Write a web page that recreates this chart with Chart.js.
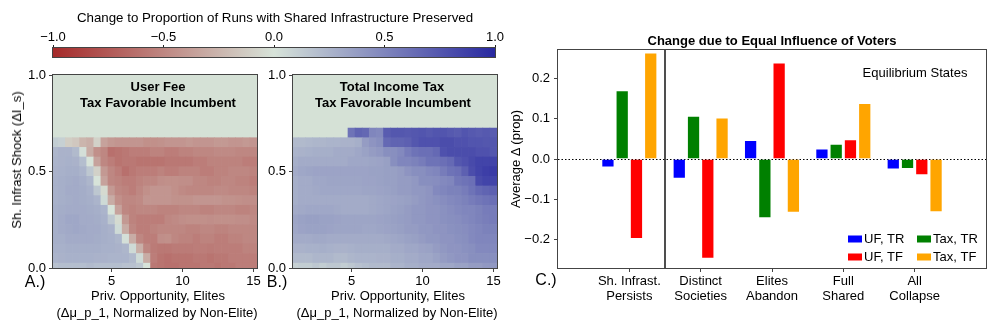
<!DOCTYPE html>
<html>
<head>
<meta charset="utf-8">
<script src="https://cdn.jsdelivr.net/npm/chart.js@4.4.1/dist/chart.umd.min.js"></script>
<style>
  body { margin: 0; background: #fff; width: 997px; height: 332px; overflow: hidden; position: relative;
         font-family: 'Liberation Sans', Arial, sans-serif; color: #000; }
  canvas { position: absolute; }
  .t { position: absolute; white-space: nowrap; font-size: 13px; line-height: 16px; transform: translate(-50%, -50%); }
  .b { font-weight: bold; }
  .p { font-size: 16px; line-height: 18px; }
  .rot { transform: translate(-50%, -50%) rotate(-90deg); }
</style>
</head>
<body>
<canvas id="cbar" width="520" height="60" style="left:0;top:0"></canvas>
<canvas id="heatA" width="270" height="272" style="left:0;top:60px"></canvas>
<canvas id="heatB" width="270" height="272" style="left:240px;top:60px"></canvas>
<canvas id="barC" width="497" height="332" style="left:500px;top:0"></canvas>

<div class="t" style="left:275px;top:18px;font-size:13.3px">Change to Proportion of Runs with Shared Infrastructure Preserved</div>

<div class="t rot" style="left:17px;top:160px">Sh. Infrast Shock (ΔI_s)</div>
<div class="t b" style="left:158px;top:87px">User Fee</div>
<div class="t b" style="left:158px;top:103px">Tax Favorable Incumbent</div>
<div class="t" style="left:158px;top:296px">Priv. Opportunity, Elites</div>
<div class="t" style="left:157px;top:313px">(Δμ_p_1, Normalized by Non-Elite)</div>
<div class="t p" style="left:35px;top:282px">A.)</div>

<div class="t b" style="left:392px;top:87px">Total Income Tax</div>
<div class="t b" style="left:393px;top:103px">Tax Favorable Incumbent</div>
<div class="t" style="left:398px;top:296px">Priv. Opportunity, Elites</div>
<div class="t" style="left:397px;top:313px">(Δμ_p_1, Normalized by Non-Elite)</div>
<div class="t p" style="left:277px;top:282px">B.)</div>

<div class="t b" style="left:772px;top:41px">Change due to Equal Influence of Voters</div>
<div class="t" style="left:915px;top:73px">Equilibrium States</div>
<div class="t rot" style="left:516px;top:159px">Average Δ (prop)</div>
<div class="t p" style="left:546px;top:280px">C.)</div>

<script>
// ---- colour bar ----
const colorbarTicks = [-1, -0.5, 0, 0.5, 1];

// ---- heatmaps (rows bottom to top, one value per column) ----
const heatX = [1, 1.5, 2, 2.5, 3, 3.5, 4, 4.5, 5, 5.5, 6, 6.5, 7, 7.5, 8, 8.5, 9, 9.5, 10, 10.5, 11, 11.5, 12, 12.5, 13, 13.5, 14, 14.5, 15];
const heatXTicks = [5, 10, 15];
const heatYTicks = [0, 0.5, 1];
const heatYA = [0, 0.05, 0.1, 0.15, 0.2, 0.25, 0.3, 0.35, 0.4, 0.45, 0.5, 0.55, 0.6, 0.65];
const heatYB = [0, 0.05, 0.1, 0.15, 0.2, 0.25, 0.3, 0.35, 0.4, 0.45, 0.5, 0.55, 0.6, 0.65, 0.7];

// User Fee, Tax Favorable Incumbent
const heatA = [
  [0.18,0.2,0.2,0.2,0.2,0.22,0.2,0.2,0.2,0.2,0.18,0.18,0.15,0.0,-0.58,-0.6,-0.62,-0.62,-0.6,-0.6,-0.6,-0.58,-0.58,-0.6,-0.58,-0.58,-0.55,-0.55,-0.55],
  [0.25,0.26,0.27,0.27,0.27,0.27,0.26,0.26,0.25,0.25,0.25,0.22,0.05,-0.3,-0.55,-0.6,-0.62,-0.6,-0.6,-0.6,-0.58,-0.58,-0.6,-0.58,-0.58,-0.55,-0.55,-0.55,-0.55],
  [0.27,0.27,0.28,0.28,0.28,0.28,0.28,0.27,0.27,0.26,0.24,0.05,-0.28,-0.5,-0.56,-0.58,-0.58,-0.56,-0.56,-0.56,-0.55,-0.55,-0.56,-0.55,-0.55,-0.55,-0.55,-0.52,-0.52],
  [0.28,0.28,0.3,0.3,0.3,0.3,0.29,0.28,0.27,0.24,0.02,-0.3,-0.5,-0.55,-0.55,-0.46,-0.45,-0.5,-0.52,-0.52,-0.55,-0.52,-0.52,-0.55,-0.55,-0.52,-0.52,-0.5,-0.5],
  [0.28,0.3,0.31,0.32,0.31,0.3,0.3,0.28,0.26,0.05,-0.3,-0.5,-0.55,-0.55,-0.52,-0.5,-0.5,-0.5,-0.5,-0.52,-0.52,-0.5,-0.5,-0.52,-0.52,-0.5,-0.5,-0.5,-0.5],
  [0.28,0.3,0.32,0.32,0.3,0.3,0.29,0.27,0.15,-0.05,-0.4,-0.52,-0.55,-0.55,-0.55,-0.55,-0.5,-0.48,-0.46,-0.45,-0.45,-0.45,-0.46,-0.45,-0.45,-0.45,-0.46,-0.46,-0.48],
  [0.28,0.29,0.3,0.3,0.3,0.29,0.28,0.25,0.0,-0.35,-0.5,-0.52,-0.5,-0.5,-0.5,-0.52,-0.52,-0.52,-0.5,-0.5,-0.5,-0.52,-0.52,-0.5,-0.5,-0.5,-0.52,-0.52,-0.5],
  [0.27,0.28,0.29,0.3,0.29,0.28,0.25,0.05,-0.3,-0.45,-0.5,-0.5,-0.48,-0.42,-0.42,-0.42,-0.42,-0.44,-0.44,-0.44,-0.42,-0.42,-0.42,-0.42,-0.44,-0.44,-0.45,-0.46,-0.46],
  [0.27,0.28,0.3,0.3,0.29,0.27,0.15,-0.05,-0.4,-0.5,-0.52,-0.55,-0.5,-0.45,-0.42,-0.42,-0.42,-0.45,-0.48,-0.5,-0.5,-0.5,-0.5,-0.48,-0.48,-0.5,-0.5,-0.5,-0.52],
  [0.27,0.28,0.29,0.3,0.28,0.24,0.0,-0.35,-0.5,-0.52,-0.55,-0.55,-0.52,-0.5,-0.5,-0.46,-0.45,-0.45,-0.46,-0.46,-0.5,-0.5,-0.52,-0.52,-0.5,-0.5,-0.52,-0.52,-0.55],
  [0.26,0.27,0.28,0.28,0.25,0.15,-0.1,-0.4,-0.5,-0.55,-0.62,-0.58,-0.55,-0.55,-0.55,-0.52,-0.55,-0.55,-0.52,-0.52,-0.52,-0.55,-0.55,-0.52,-0.52,-0.5,-0.5,-0.5,-0.52],
  [0.25,0.26,0.27,0.26,0.2,0.0,-0.35,-0.5,-0.55,-0.6,-0.58,-0.58,-0.6,-0.6,-0.6,-0.6,-0.58,-0.58,-0.58,-0.58,-0.55,-0.55,-0.52,-0.52,-0.52,-0.52,-0.52,-0.55,-0.55],
  [0.24,0.26,0.26,0.22,0.02,-0.3,-0.45,-0.5,-0.62,-0.6,-0.58,-0.55,-0.55,-0.55,-0.52,-0.52,-0.55,-0.55,-0.52,-0.52,-0.5,-0.5,-0.5,-0.48,-0.48,-0.48,-0.5,-0.5,-0.5],
  [0.12,0.1,-0.12,-0.15,-0.25,-0.28,-0.1,-0.35,-0.4,-0.42,-0.42,-0.42,-0.42,-0.45,-0.45,-0.44,-0.42,-0.42,-0.42,-0.4,-0.42,-0.42,-0.42,-0.4,-0.4,-0.42,-0.42,-0.4,-0.42]
];

// Total Income Tax, Tax Favorable Incumbent
const heatB = [
  [0.1,0.12,0.12,0.15,0.12,0.15,0.15,0.12,0.15,0.18,0.2,0.22,0.22,0.22,0.25,0.25,0.28,0.28,0.3,0.3,0.3,0.32,0.32,0.35,0.35,0.38,0.38,0.4,0.4],
  [0.22,0.22,0.22,0.24,0.24,0.24,0.22,0.22,0.24,0.25,0.25,0.25,0.26,0.26,0.28,0.28,0.3,0.3,0.32,0.32,0.35,0.38,0.4,0.42,0.42,0.45,0.45,0.45,0.45],
  [0.26,0.26,0.27,0.27,0.28,0.27,0.26,0.26,0.27,0.28,0.28,0.28,0.28,0.28,0.3,0.3,0.32,0.32,0.34,0.35,0.38,0.4,0.42,0.42,0.44,0.45,0.48,0.48,0.48],
  [0.3,0.3,0.3,0.31,0.31,0.3,0.3,0.3,0.3,0.3,0.3,0.3,0.3,0.31,0.32,0.33,0.35,0.36,0.38,0.4,0.4,0.42,0.42,0.44,0.45,0.48,0.5,0.5,0.5],
  [0.32,0.34,0.35,0.35,0.35,0.34,0.33,0.33,0.33,0.33,0.32,0.32,0.33,0.34,0.35,0.36,0.38,0.38,0.4,0.4,0.42,0.42,0.44,0.45,0.46,0.48,0.5,0.52,0.52],
  [0.33,0.35,0.36,0.36,0.35,0.35,0.34,0.33,0.33,0.33,0.33,0.33,0.34,0.35,0.36,0.37,0.38,0.4,0.4,0.42,0.42,0.44,0.45,0.46,0.48,0.5,0.52,0.54,0.55],
  [0.3,0.31,0.32,0.32,0.32,0.32,0.31,0.3,0.3,0.3,0.3,0.31,0.32,0.33,0.35,0.36,0.38,0.4,0.4,0.42,0.42,0.44,0.46,0.48,0.5,0.5,0.52,0.55,0.55],
  [0.28,0.3,0.3,0.3,0.3,0.3,0.3,0.3,0.3,0.3,0.3,0.31,0.32,0.33,0.34,0.35,0.36,0.38,0.4,0.42,0.44,0.46,0.48,0.5,0.52,0.55,0.58,0.6,0.62],
  [0.28,0.3,0.3,0.31,0.32,0.32,0.32,0.32,0.32,0.32,0.33,0.33,0.34,0.35,0.36,0.38,0.38,0.4,0.4,0.42,0.48,0.5,0.52,0.52,0.55,0.6,0.65,0.68,0.7],
  [0.28,0.3,0.3,0.32,0.32,0.33,0.33,0.33,0.33,0.33,0.34,0.34,0.35,0.36,0.36,0.38,0.38,0.4,0.45,0.45,0.46,0.48,0.5,0.58,0.6,0.62,0.82,0.85,0.85],
  [0.3,0.32,0.33,0.34,0.34,0.34,0.34,0.34,0.34,0.34,0.34,0.35,0.35,0.36,0.36,0.38,0.42,0.45,0.45,0.48,0.5,0.55,0.6,0.62,0.7,0.8,0.85,0.88,0.9],
  [0.28,0.3,0.3,0.3,0.3,0.3,0.3,0.3,0.32,0.32,0.32,0.33,0.34,0.36,0.45,0.5,0.5,0.52,0.55,0.6,0.6,0.62,0.65,0.75,0.78,0.82,0.85,0.85,0.85],
  [0.25,0.26,0.27,0.28,0.28,0.28,0.3,0.3,0.3,0.32,0.35,0.38,0.4,0.45,0.45,0.48,0.55,0.6,0.62,0.62,0.65,0.78,0.8,0.8,0.8,0.8,0.78,0.78,0.75],
  [0.22,0.22,0.23,0.24,0.24,0.25,0.25,0.26,0.26,0.28,0.38,0.42,0.45,0.65,0.68,0.68,0.7,0.75,0.78,0.78,0.78,0.8,0.8,0.78,0.78,0.76,0.76,0.75,0.75],
  [null,null,null,null,null,null,null,null,0.6,0.68,0.66,0.5,0.48,0.72,0.75,0.75,0.74,0.75,0.76,0.74,0.76,0.76,0.74,0.72,0.76,0.74,0.72,0.74,0.72]
];

// ---- bar chart ----
const states = [['Sh. Infrast.', 'Persists'], ['Distinct', 'Societies'], ['Elites', 'Abandon'], ['Full', 'Shared'], ['All', 'Collapse']];
const statePos = [0, 1, 2, 3, 4];
const seriesNames = ['UF, TR', 'Tax, TR', 'UF, TF', 'Tax, TF'];
const ufTR  = [-0.021, -0.049, 0.047, 0.026, -0.026];
const taxTR = [0.170, 0.107, -0.147, 0.038, -0.025];
const ufTF  = [-0.198, -0.247, 0.239, 0.049, -0.040];
const taxTF = [0.264, 0.103, -0.133, 0.139, -0.132];
const barTicks = [-0.2, -0.1, 0, 0.1, 0.2];
const sepX = 0.5;

// ---- styles ----
const FONT = "'Liberation Sans', Arial, sans-serif";
Chart.defaults.font.family = FONT;
Chart.defaults.font.size = 13;
Chart.defaults.color = '#000';

const seriesColors = ['#0000ff', '#008000', '#ff0000', '#ffa500'];
const cmapStops = [[-1, [165, 42, 42]], [0, [215, 227, 217]], [1, [40, 40, 160]]];
const nanColor = 'rgb(213,225,214)';
const frameColor = '#444';
const cellHalf = 0.025;

function cmap(v) {
    const [a, b] = v < 0 ? [cmapStops[0], cmapStops[1]] : [cmapStops[1], cmapStops[2]];
    const f = (v - a[0]) / (b[0] - a[0]);
    const c = a[1].map((ch, k) => Math.round(ch + (b[1][k] - ch) * f));
    return `rgb(${c[0]},${c[1]},${c[2]})`;
}

function fmt(v) {
    return (v < 0 ? '\u2212' : '') + Math.abs(v).toFixed(1);
}

function fixedTicks(list) {
    return scale => { scale.ticks = list.map(v => ({ value: v })); };
}

const framePlugin = {
    id: 'frame',
    afterDraw(chart) {
        const { ctx, chartArea: a } = chart;
        ctx.save();
        ctx.strokeStyle = frameColor;
        ctx.lineWidth = 1;
        ctx.strokeRect(Math.round(a.left) - 0.5, Math.round(a.top) - 0.5,
                       Math.round(a.right - a.left) + 1, Math.round(a.bottom - a.top) + 1);
        ctx.restore();
    }
};

const plotBg = {
    id: 'plotBg',
    beforeDatasetsDraw(chart, args, opts) {
        if (!opts.color) return;
        const { ctx, chartArea: a } = chart;
        ctx.save();
        ctx.fillStyle = opts.color;
        ctx.fillRect(a.left, a.top, a.right - a.left, a.bottom - a.top);
        ctx.restore();
    }
};

const axisGrid = { drawOnChartArea: false, drawTicks: true, tickLength: 4, color: frameColor, offset: false };

// ---- colour bar ----
new Chart(document.getElementById('cbar'), {
    type: 'bar',
    data: {
        labels: ['scale'],
        datasets: [{
            data: [[colorbarTicks[0], colorbarTicks[colorbarTicks.length - 1]]],
            backgroundColor: c => {
                const a = c.chart.chartArea;
                if (!a) return nanColor;
                const g = c.chart.ctx.createLinearGradient(a.left, 0, a.right, 0);
                cmapStops.forEach(s => g.addColorStop((s[0] + 1) / 2, cmap(s[0])));
                return g;
            },
            borderWidth: 0,
            barPercentage: 1,
            categoryPercentage: 1,
            clip: 0
        }]
    },
    options: {
        indexAxis: 'y',
        responsive: false,
        animation: false,
        events: [],
        layout: { padding: { left: 53, right: 25, top: 0, bottom: 3 } },
        plugins: { legend: { display: false }, tooltip: { enabled: false } },
        scales: {
            x: {
                position: 'top', min: -1, max: 1, offset: false,
                afterBuildTicks: fixedTicks(colorbarTicks),
                afterFit: s => { s.height = 48; },
                grid: { drawOnChartArea: false, tickLength: 3, color: '#222', offset: false },
                border: { display: false },
                ticks: { padding: 0, maxRotation: 0, callback: v => fmt(v) }
            },
            y: { display: false }
        }
    },
    plugins: [framePlugin]
});

// ---- heatmaps ----
function heatmap(id, rows, vals) {
    const datasets = rows.map((y, r) => ({
        data: heatX.map((x, i) => vals[r][i] === null ? null : { x: x, y: [y - cellHalf, y + cellHalf], v: vals[r][i] })
                   .filter(p => p !== null),
        backgroundColor: c => cmap(c.raw.v),
        borderWidth: 0,
        grouped: false,
        barPercentage: 1,
        categoryPercentage: 1,
        clip: 0
    }));
    return new Chart(document.getElementById(id), {
        type: 'bar',
        data: { datasets },
        options: {
            responsive: false,
            animation: false,
            events: [],
            layout: { padding: { left: 0, top: 15, right: 13, bottom: 0 } },
            plugins: { legend: { display: false }, tooltip: { enabled: false }, plotBg: { color: nanColor } },
            scales: {
                x: {
                    type: 'linear', min: 0.875, max: 15.25, offset: false,
                    afterBuildTicks: fixedTicks(heatXTicks),
                    afterFit: s => { s.height = 64; },
                    grid: axisGrid,
                    border: { display: false },
                    ticks: { padding: 2, maxRotation: 0, autoSkip: false, callback: v => String(v) }
                },
                y: {
                    min: 0, max: 1,
                    afterBuildTicks: fixedTicks(heatYTicks),
                    afterFit: s => { s.width = 53; },
                    grid: axisGrid,
                    border: { display: false },
                    ticks: { padding: 3, callback: v => fmt(v) }
                }
            }
        },
        plugins: [plotBg, framePlugin]
    });
}

heatmap('heatA', heatYA, heatA);
heatmap('heatB', heatYB, heatB);

// ---- bar chart ----
const refLines = {
    id: 'refLines',
    beforeDatasetsDraw(chart) {
        const { ctx, chartArea: a, scales: { x, y } } = chart;
        const y0 = Math.round(y.getPixelForValue(0)) + 0.5;
        const xs = x.getPixelForValue(sepX);
        ctx.save();
        ctx.strokeStyle = '#000';
        ctx.lineWidth = 1;
        ctx.setLineDash([1.5, 2]);
        ctx.beginPath();
        ctx.moveTo(a.left, y0);
        ctx.lineTo(a.right, y0);
        ctx.stroke();
        ctx.setLineDash([]);
        ctx.strokeStyle = '#222';
        ctx.lineWidth = 1.6;
        ctx.beginPath();
        ctx.moveTo(xs, a.top);
        ctx.lineTo(xs, a.bottom);
        ctx.stroke();
        ctx.restore();
    }
};

const boxLegend = {
    id: 'boxLegend',
    afterDatasetsDraw(chart, args, o) {
        const { ctx, chartArea: a } = chart;
        ctx.save();
        ctx.font = '13px ' + FONT;
        ctx.textBaseline = 'middle';
        chart.data.datasets.forEach((ds, k) => {
            const col = k % 2, row = Math.floor(k / 2);
            const sx = a.right - o.colOffsets[col];
            const cy = a.bottom - o.rowOffsets[row];
            ctx.fillStyle = ds.backgroundColor;
            ctx.fillRect(sx, cy - 3.5, 14, 7);
            ctx.fillStyle = '#000';
            ctx.fillText(ds.label, sx + 16, cy + 0.5);
        });
        ctx.restore();
    }
};

const barSeries = [ufTR, taxTR, ufTF, taxTF];

new Chart(document.getElementById('barC'), {
    type: 'bar',
    data: {
        datasets: barSeries.map((vals, k) => ({
            label: seriesNames[k],
            data: statePos.map((x, i) => ({ x: x, y: vals[i] })),
            backgroundColor: seriesColors[k],
            borderColor: 'rgba(255,255,255,0.45)',
            borderWidth: 1,
            categoryPercentage: 0.8,
            barPercentage: 0.93
        }))
    },
    options: {
        responsive: false,
        animation: false,
        events: [],
        layout: { padding: { left: 0, top: 50, right: 11, bottom: 0 } },
        plugins: {
            legend: { display: false },
            tooltip: { enabled: false },
            boxLegend: { colOffsets: [138, 69], rowOffsets: [29, 11] }
        },
        scales: {
            x: {
                type: 'linear', min: -1, max: 5, offset: false,
                afterBuildTicks: fixedTicks(statePos),
                afterFit: s => { s.height = 64; },
                grid: axisGrid,
                border: { display: false },
                ticks: { padding: 2, maxRotation: 0, autoSkip: false, font: { lineHeight: 1.15 }, callback: v => states[v] }
            },
            y: {
                min: -0.27, max: 0.27,
                afterBuildTicks: fixedTicks(barTicks),
                afterFit: s => { s.width = 58; },
                grid: axisGrid,
                border: { display: false },
                ticks: { padding: 4, callback: v => fmt(v) }
            }
        }
    },
    plugins: [refLines, boxLegend, framePlugin]
});
</script>
</body>
</html>
